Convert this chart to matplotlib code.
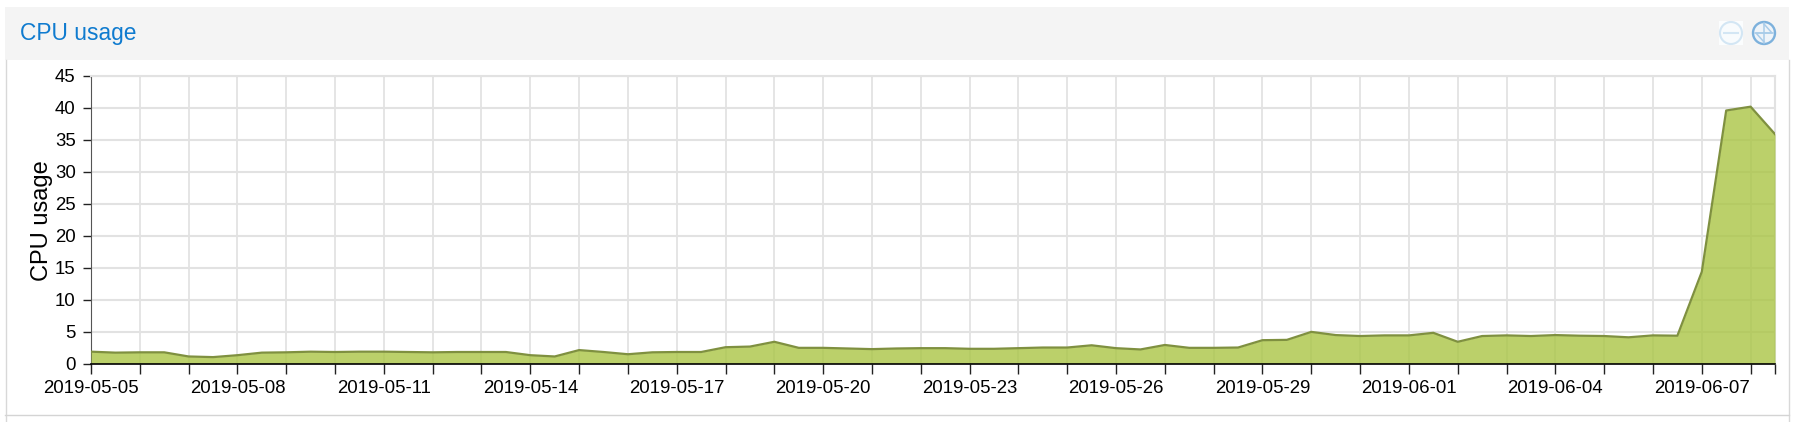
import pandas as pd
import matplotlib
matplotlib.use('Agg')
import matplotlib.pyplot as plt
import matplotlib.dates as mdates
from matplotlib.patches import Rectangle, Circle

plt.rcParams['font.family'] = ['Liberation Sans', 'DejaVu Sans']

title = "CPU usage"
start_date = "2019-05-05"
end_date = "2019-06-08 12:00"
y_ticks = [0, 5, 10, 15, 20, 25, 30, 35, 40, 45]
label_dates = ["2019-05-05", "2019-05-08", "2019-05-11", "2019-05-14",
               "2019-05-17", "2019-05-20", "2019-05-23", "2019-05-26",
               "2019-05-29", "2019-06-01", "2019-06-04", "2019-06-07"]

# one value every 12 hours
cpu_usage = [1.85, 1.7, 1.75, 1.75, 1.1, 1.0, 1.3, 1.7, 1.75, 1.85,
             1.8, 1.85, 1.85, 1.8, 1.75, 1.8, 1.8, 1.8, 1.3, 1.1,
             2.1, 1.8, 1.45, 1.75, 1.8, 1.8, 2.55, 2.65, 3.4, 2.45,
             2.45, 2.35, 2.25, 2.35, 2.4, 2.4, 2.3, 2.3, 2.4, 2.5,
             2.5, 2.85, 2.4, 2.2, 2.9, 2.45, 2.45, 2.5, 3.65, 3.7,
             4.95, 4.45, 4.3, 4.4, 4.4, 4.8, 3.4, 4.3, 4.4, 4.3,
             4.45, 4.35, 4.3, 4.1, 4.4, 4.35, 14.35, 39.6, 40.2, 35.9]

dates = pd.date_range(start_date, periods=len(cpu_usage), freq="12h")

W, H = 1797, 422
fig = plt.figure(figsize=(W / 100, H / 100), dpi=100, facecolor="white")

# panel around the chart, in pixels
panel = fig.add_axes([0, 0, 1, 1])
panel.set_xlim(0, W)
panel.set_ylim(H, 0)
panel.axis("off")
panel.add_patch(Rectangle((5, 7), 1784, 53, facecolor="#f4f4f4", edgecolor="none"))
panel.plot([5.5, 5.5], [60, H], color="#d8d8d8", lw=1)
panel.plot([1788.5, 1788.5], [60, H], color="#d8d8d8", lw=1)
panel.plot([5, 1789], [414.5, 414.5], color="#d4d4d4", lw=1)
panel.text(20, 33.5, title, color="#0f7bcf", fontsize=16.4, va="center", ha="left")

# collapse / expand icons
panel.add_patch(Rectangle((1719, 21), 24, 24, facecolor="#fbfdfe", edgecolor="none"))
panel.add_patch(Circle((1731, 33), 11, facecolor="#f8fbfd", edgecolor="#d3e6f4", lw=1.5))
panel.plot([1724, 1738], [33, 33], color="#d3e6f4", lw=1.5)
panel.add_patch(Circle((1764, 33), 11, facecolor="#eff4f9", edgecolor="#7db1dc", lw=1.7))
panel.plot([1755, 1773], [33, 33], color="#a9cce9", lw=1.1)
panel.plot([1764, 1764], [23, 43], color="#a9cce9", lw=1.1)
panel.plot([1764, 1772, 1764], [24, 33, 33], color="#a9cce9", lw=1.1)
panel.plot([1764, 1756, 1764], [42, 33, 33], color="#a9cce9", lw=1.1)

ax = fig.add_axes([91 / W, (H - 363.5) / H, 1684 / W, 287.5 / H])
ax.patch.set_alpha(0)
ax.fill_between(dates, cpu_usage, 0, color="#aac545", alpha=0.8, lw=0, zorder=3)
ax.plot(dates, cpu_usage, color="#7f9040", lw=1.6, zorder=4, clip_on=True)

ax.set_xlim(pd.Timestamp(start_date), pd.Timestamp(end_date))
ax.set_ylim(0, 45)
ax.set_yticks(y_ticks)
ax.xaxis.set_major_locator(mdates.DayLocator())
ax.set_xticks(list(ax.get_xticks()) + [mdates.date2num(pd.Timestamp(end_date))])
labels = []
for t in ax.get_xticks():
    day = mdates.num2date(t).strftime("%Y-%m-%d")
    is_end = t == mdates.date2num(pd.Timestamp(end_date))
    labels.append(day if day in label_dates and not is_end else "")
ax.set_xticklabels(labels)

ax.grid(True, axis="y", color="#e2e2e2", lw=1.5, zorder=1)
ax.grid(True, axis="x", color="#dedede", lw=1.1, zorder=1)
ax.set_axisbelow(True)
ax.tick_params(axis="x", length=7, width=1, color="#222222", labelsize=13.4, pad=5, labelcolor="black")
ax.tick_params(axis="y", length=6, width=1, color="#222222", labelsize=13.4, pad=5, labelcolor="black")

ax.spines["top"].set_color("#e2e2e2")
ax.spines["top"].set_linewidth(1.5)
ax.spines["right"].set_color("#e2e2e2")
ax.spines["right"].set_linewidth(1.5)
ax.spines["left"].set_color("#555555")
ax.spines["left"].set_linewidth(0.8)
ax.spines["bottom"].set_color("black")
ax.spines["bottom"].set_linewidth(1.2)
ax.spines["bottom"].set_zorder(6)

panel.text(42, 221, "CPU usage", rotation=90, fontsize=17, va="center", ha="center", color="black")

fig.savefig("out.png", dpi=100)
